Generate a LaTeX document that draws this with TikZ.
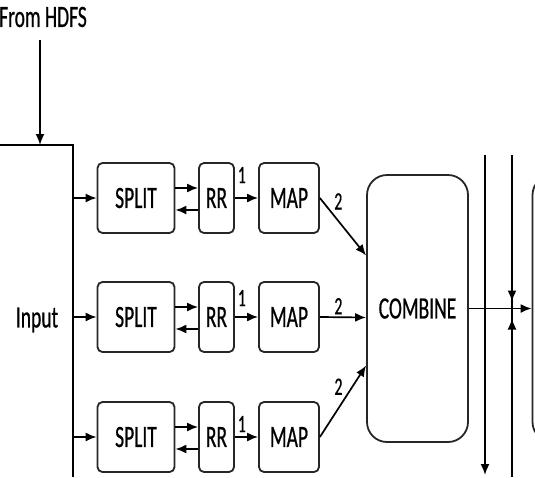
\documentclass[tikz,border=0pt]{standalone}
\usepackage{fontspec}
\setmainfont{Carlito}[FakeStretch=0.63,FakeBold=0.6]
\usetikzlibrary{arrows.meta}

\tikzset{
  blk/.style={draw=black!85, line width=1.8pt, rounded corners=5pt, minimum height=70pt, inner sep=0pt},
  bigblk/.style={blk, minimum width=101pt, minimum height=267pt, rounded corners=20pt},
  num/.style={font=\fontsize{25}{27}\selectfont, inner sep=2pt},
}

\begin{document}
\begin{tikzpicture}[x=1pt,y=-1pt,line width=1.7pt,>={Latex[length=11pt,width=9pt]},font=\fontsize{31}{33}\selectfont]
\useasboundingbox (0,0) rectangle (535,477);
\clip (0,0) rectangle (535,477);
\node[inner sep=2pt] (hdfs) at (43,17) {From HDFS};
\node (input) at (37,320) {Input};
\coordinate (feed) at (40,145);
\coordinate (inL) at (0,145);
\coordinate (inR) at (73,145);
\coordinate (inB) at (73,477);
\draw[->,shorten <=10pt] (hdfs.south -| feed) -- (feed);
\draw (inL) -- (inR) -- (inB);
\node[bigblk] (comb) at (417.5,308.5) {COMBINE};
\node[bigblk] (nxt) at (583,308.5) {};
\foreach \r/\y/\d/\p/\a/\u in {1/198/53/0.25/south west/12,2/317/-9/0.4/south/8,3/437/-57/0.55/south east/2}{
  \node[blk, minimum width=77pt] (split\r) at (136,\y) {SPLIT};
  \node[blk, minimum width=35pt] (rr\r) at (216.5,\y) {RR};
  \node[blk, minimum width=60pt] (map\r) at (289,\y) {MAP};
  \draw[->] (split\r.west -| inR) -- (split\r.west);
  \draw[->] ([yshift=10pt]split\r.east) -- ([yshift=10pt]rr\r.west);
  \draw[<-] ([yshift=-12pt]split\r.east) -- ([yshift=-12pt]rr\r.west);
  \draw[->] (rr\r) -- node[num, pos=0.3, above=\u pt]{1} (map\r);
  \draw[->] (map\r.east) -- node[num, pos=\p, anchor=\a]{2} ([yshift=\d pt]comb.west);
}
\draw[->] (comb.east) -- (nxt.west);
\coordinate (v1t) at (485,155);
\coordinate (v1b) at (485,475);
\coordinate (v2t) at (512,155);
\coordinate (v2b) at (512,477);
\coordinate (v2m) at (comb.east -| v2t);
\draw[->] (v1t) -- (v1b);
\draw (v2t) -- (v2b);
\draw[->] (v2t) -- ([yshift=7pt]v2m);
\draw[->] (v2b) -- ([yshift=-10pt]v2m);
\end{tikzpicture}
\end{document}
